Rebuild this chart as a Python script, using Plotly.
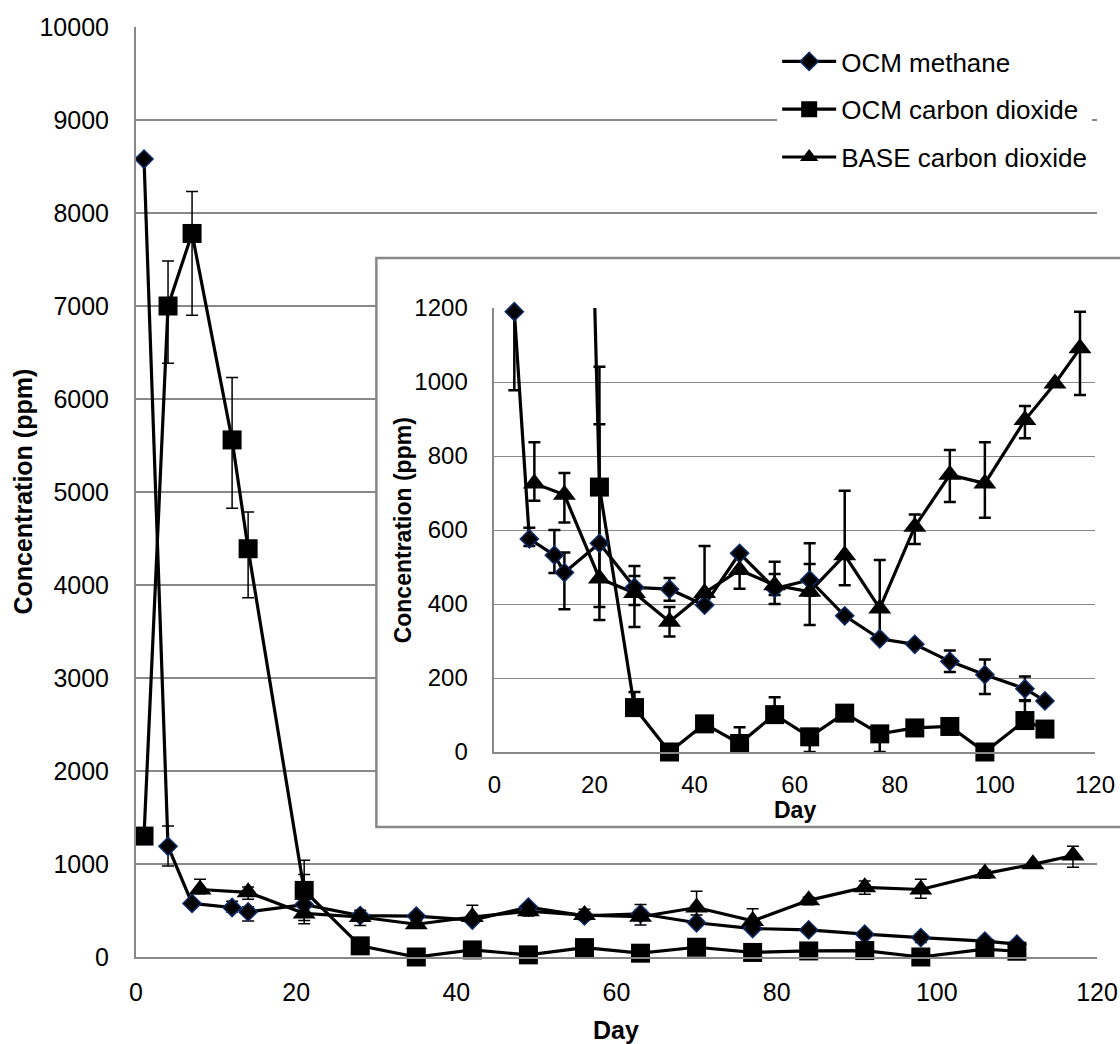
import plotly.graph_objects as go

# ---------------- data ----------------
ch4_day = [1, 4, 7, 12, 14, 21, 28, 35, 42, 49, 56, 63, 70, 77, 84, 91, 98, 106, 110]
ch4_val = [8580, 1190, 576, 532, 485, 564, 445, 440, 397, 537, 442, 465, 368, 306, 291, 245, 209, 171, 138]
ch4_err_plus = [0, 218, 30, 68, 54, 322, 31, 30, 0, 0, 39, 43, 0, 0, 0, 29, 41, 33, 0]
ch4_err_minus = [0, 212, 19, 48, 99, 172, 48, 31, 0, 0, 18, 43, 0, 0, 0, 29, 52, 33, 0]

co2_day = [1, 4, 7, 12, 14, 21, 28, 35, 42, 49, 56, 63, 70, 77, 84, 91, 98, 106, 110]
co2_val = [1300, 7000, 7780, 5560, 4390, 716, 120, 0, 76, 23, 101, 41, 105, 49, 65, 69, 0, 85, 62]
co2_err_plus = [0, 484, 450, 670, 394, 325, 42, 0, 0, 44, 47, 0, 0, 0, 0, 0, 0, 55, 0]
co2_err_minus = [0, 616, 880, 735, 526, 359, 0, 0, 0, 0, 0, 41, 0, 49, 0, 0, 0, 0, 0]

base_day = [8, 14, 21, 28, 35, 42, 49, 56, 63, 70, 77, 84, 91, 98, 106, 112, 117]
base_val = [726, 695, 469, 430, 352, 430, 492, 451, 433, 532, 388, 609, 749, 726, 897, 996, 1091]
base_err_plus = [111, 59, 0, 73, 40, 127, 0, 63, 131, 174, 131, 33, 67, 111, 38, 0, 99]
base_err_minus = [47, 75, 0, 92, 40, 0, 51, 51, 90, 81, 85, 47, 73, 93, 49, 0, 126]

series_names = ["OCM methane", "OCM carbon dioxide", "BASE carbon dioxide"]
main_x_ticks = [0, 20, 40, 60, 80, 100, 120]
main_y_ticks = [0, 1000, 2000, 3000, 4000, 5000, 6000, 7000, 8000, 9000, 10000]
main_y_labels = [str(v) for v in main_y_ticks]
inset_y_ticks = [0, 200, 400, 600, 800, 1000, 1200]
x_title = "Day"
y_title = "Concentration (ppm)"

# ---------------- layout geometry ----------------
W, H = 1120, 1044
L, R, T, B = 135.5, 23, 27, 87
pw, ph = W - L - R, H - T - B


def px_x(p):
    return (p - L) / pw


def px_y(p):
    return (H - B - p) / ph


FONT = "Liberation Sans, Arial, sans-serif"
GRID = "#888888"

series = [
    dict(name=series_names[0], d=ch4_day, v=ch4_val, ep=ch4_err_plus, em=ch4_err_minus,
         symbol="diamond", size=14, mline=dict(color="#0F2D69", width=1.5)),
    dict(name=series_names[1], d=co2_day, v=co2_val, ep=co2_err_plus, em=co2_err_minus,
         symbol="square", size=19, mline=dict(color="black", width=0)),
    dict(name=series_names[2], d=base_day, v=base_val, ep=base_err_plus, em=base_err_minus,
         symbol="triangle-up", size=20, mline=dict(color="black", width=0)),
]

fig = go.Figure()

# main chart
for i, s in enumerate(series):
    fig.add_trace(go.Scatter(
        x=s["d"], y=s["v"], name=s["name"], mode="lines+markers",
        line=dict(color="black", width=3.2),
        marker=dict(symbol=s["symbol"], size=s["size"], color="black", line=s["mline"]),
        error_y=dict(type="data", symmetric=False, array=s["ep"], arrayminus=s["em"],
                     color="black", thickness=1.5, width=6),
        cliponaxis=False, legendgroup=f"g{i}", showlegend=True,
        xaxis="x", yaxis="y",
    ))

# inset chart: clipped lines + error bars, unclipped markers of points in range
for i, s in enumerate(series):
    fig.add_trace(go.Scatter(
        x=s["d"], y=s["v"], mode="lines",
        line=dict(color="black", width=3.2),
        error_y=dict(type="data", symmetric=False, array=s["ep"], arrayminus=s["em"],
                     color="black", thickness=2.5, width=6),
        cliponaxis=True, showlegend=False, hoverinfo="skip",
        xaxis="x2", yaxis="y2",
    ))
for i, s in enumerate(series):
    pts = [(d, v) for d, v in zip(s["d"], s["v"]) if v <= 1200]
    fig.add_trace(go.Scatter(
        x=[p[0] for p in pts], y=[p[1] for p in pts], mode="markers",
        marker=dict(symbol=s["symbol"], size=s["size"], color="black", line=s["mline"]),
        cliponaxis=False, showlegend=False,
        xaxis="x2", yaxis="y2",
    ))

shapes = [
    # white inset background covering the main gridlines (between grid and traces)
    dict(type="rect", xref="x", yref="y",
         x0=px_x(376) * 120, x1=125, y0=px_y(827) * 10000, y1=px_y(258) * 10000,
         fillcolor="white", line=dict(width=0), layer="between"),
    # inset border
    dict(type="rect", xref="paper", yref="paper",
         x0=px_x(376), x1=px_x(1130), y0=px_y(827), y1=px_y(258),
         fillcolor="rgba(0,0,0,0)", line=dict(color=GRID, width=2.5), layer="above"),
]

annotations = [
    dict(text=f"<b>{y_title}</b>", xref="paper", yref="paper", x=px_x(22), y=px_y(492),
         textangle=-90, showarrow=False, font=dict(family=FONT, size=25, color="black"),
         xanchor="center", yanchor="middle"),
    dict(text=f"<b>{x_title}</b>", xref="paper", yref="paper", x=px_x(616), y=px_y(1030),
         showarrow=False, font=dict(family=FONT, size=25, color="black"),
         xanchor="center", yanchor="middle"),
    dict(text=f"<b>{y_title}</b>", xref="paper", yref="paper", x=px_x(403), y=px_y(530),
         textangle=-90, showarrow=False, font=dict(family=FONT, size=23, color="black"),
         xanchor="center", yanchor="middle"),
    dict(text=f"<b>{x_title}</b>", xref="paper", yref="paper", x=px_x(794.5), y=px_y(810),
         showarrow=False, font=dict(family=FONT, size=23, color="black"),
         xanchor="center", yanchor="middle"),
]

fig.update_layout(
    width=W, height=H,
    margin=dict(l=L, r=R, t=T, b=B, autoexpand=False),
    paper_bgcolor="white", plot_bgcolor="white",
    font=dict(family=FONT, color="black"),
    showlegend=True,
    legend=dict(
        x=px_x(777), y=px_y(38), xanchor="left", yanchor="top",
        bgcolor="white", borderwidth=0,
        font=dict(family=FONT, size=26, color="black"),
        traceorder="grouped", tracegroupgap=11, itemwidth=54,
    ),
    xaxis=dict(
        domain=[0, 1], range=[0, 120], tickvals=main_x_ticks,
        showgrid=False, zeroline=False, showline=True, linecolor=GRID, linewidth=2,
        ticks="", tickfont=dict(family=FONT, size=25, color="black"),
        ticklabelstandoff=12, anchor="y",
    ),
    yaxis=dict(
        domain=[0, 1], range=[0, 10000], tickvals=main_y_ticks, ticktext=main_y_labels,
        showgrid=True, gridcolor=GRID, gridwidth=1.6, zeroline=False,
        showline=True, linecolor=GRID, linewidth=2,
        ticks="", tickfont=dict(family=FONT, size=25, color="black"),
        ticklabelstandoff=20, anchor="x",
    ),
    xaxis2=dict(
        domain=[px_x(494), px_x(1095)], range=[0, 120], tickvals=main_x_ticks,
        showgrid=False, zeroline=False, showline=True, linecolor=GRID, linewidth=1.5,
        ticks="", tickfont=dict(family=FONT, size=24, color="black"),
        ticklabelstandoff=10, anchor="y2",
    ),
    yaxis2=dict(
        domain=[px_y(752), px_y(308)], range=[0, 1200], tickvals=inset_y_ticks,
        showgrid=True, gridcolor=GRID, gridwidth=1.2, zeroline=False,
        showline=True, linecolor=GRID, linewidth=1.5,
        ticks="", tickfont=dict(family=FONT, size=24, color="black"),
        ticklabelstandoff=20, anchor="x2",
    ),
    shapes=shapes,
    annotations=annotations,
)

fig.write_html("out.html", config={"displayModeBar": False},
               post_script="document.body.style.margin='0';")
